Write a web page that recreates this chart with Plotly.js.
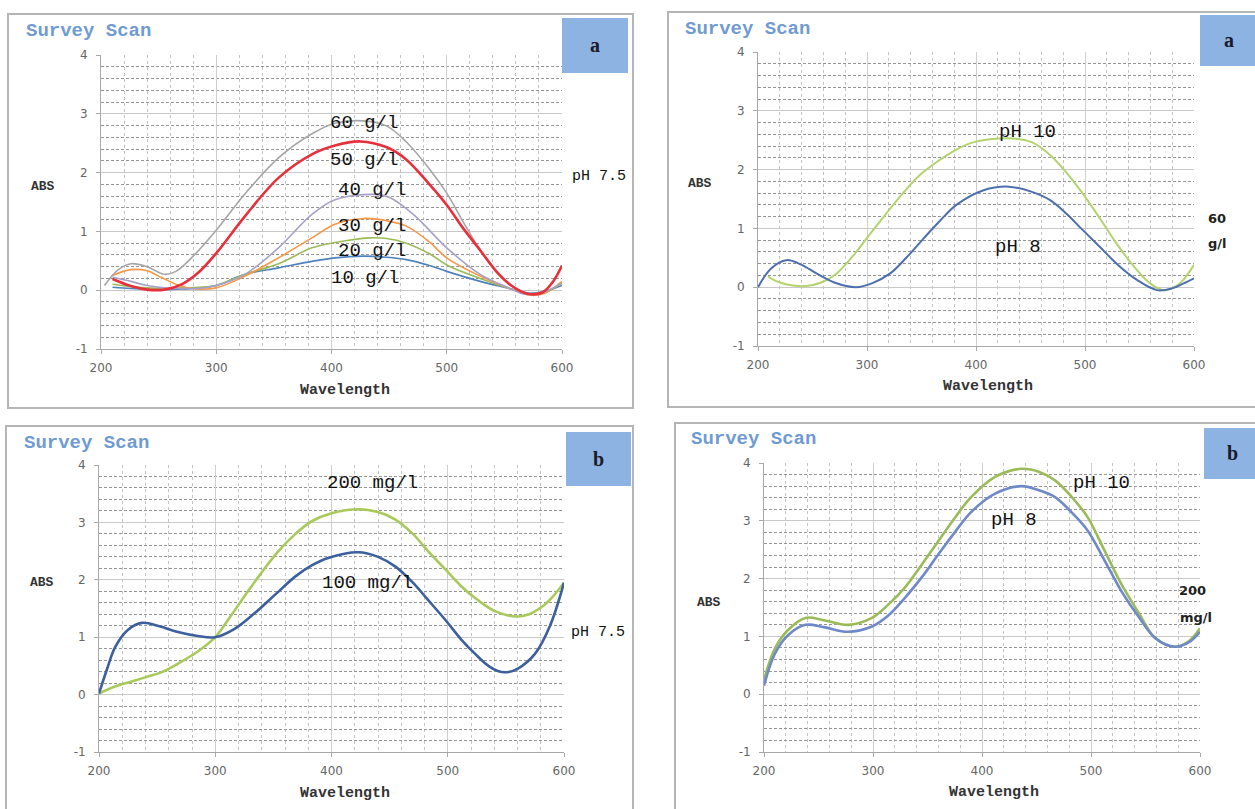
<!DOCTYPE html>
<html>
<head>
<meta charset="utf-8">
<script src="https://cdn.plot.ly/plotly-3.0.1.min.js"></script>
<style>html,body{margin:0;padding:0;background:#fff;}#chart{width:1255px;height:809px;}</style>
</head>
<body>
<div id="chart"></div>
<script>
// ---------- Panel A1 (pH 7.5, concentrations g/l) ----------
var wlA1_60 = [203,215,226,240,255,265,280,300,325,354,383,403,428,448,465,485,500,514,529,543,556,570,585,600];
var absA1_60 = [0.08,0.35,0.45,0.40,0.27,0.32,0.58,1.02,1.64,2.25,2.66,2.84,2.88,2.79,2.52,2.06,1.65,1.17,0.68,0.31,0.08,-0.05,-0.03,0.12];
var wlA1_50 = [210,226,240,255,270,285,300,325,354,383,403,425,448,465,485,500,514,529,543,556,570,583,592,600];
var absA1_50 = [0.19,0.07,0.01,0.01,0.10,0.31,0.63,1.26,1.91,2.31,2.46,2.53,2.43,2.22,1.80,1.45,1.06,0.68,0.32,0.08,-0.06,-0.04,0.14,0.42];
var wlA1_40 = [210,226,240,255,270,285,300,325,354,383,403,436,450,471,500,529,556,566,580,600];
var absA1_40 = [0.22,0.15,0.08,0.04,0.03,0.03,0.08,0.27,0.72,1.29,1.54,1.63,1.58,1.29,0.72,0.27,0.02,-0.06,-0.06,0.12];
var wlA1_30 = [210,226,240,253,268,282,300,325,354,383,403,428,448,465,485,500,529,556,572,585,600];
var absA1_30 = [0.25,0.35,0.33,0.21,0.08,0.02,0.04,0.24,0.55,0.89,1.12,1.22,1.18,1.09,0.82,0.55,0.24,0.02,-0.08,-0.05,0.15];
var wlA1_20 = [210,226,240,255,270,285,300,325,354,383,403,433,448,465,485,500,529,556,572,585,600];
var absA1_20 = [0.10,0.06,0.04,0.03,0.04,0.05,0.08,0.27,0.45,0.72,0.81,0.89,0.88,0.80,0.62,0.43,0.20,0.02,-0.07,-0.04,0.12];
var wlA1_10 = [210,226,240,255,270,285,300,325,354,383,403,428,448,465,485,500,529,556,570,585,600];
var absA1_10 = [0.05,0.03,0.02,0.01,0.02,0.04,0.08,0.27,0.38,0.49,0.55,0.58,0.56,0.52,0.42,0.32,0.15,0.02,-0.05,-0.02,0.08];

// ---------- Panel A2 (60 g/l, pH 8 / pH 10) ----------
var wlA2_pH8 = [200,212,226,240,254,270,290,305,321,336,352,367,382,407,430,450,468,483,498,514,529,548,566,580,590,600];
var absA2_pH8 = [0.00,0.32,0.46,0.38,0.23,0.08,0.00,0.07,0.23,0.50,0.83,1.13,1.40,1.65,1.71,1.63,1.48,1.25,0.97,0.68,0.40,0.12,-0.05,-0.02,0.06,0.15];
var wlA2_pH10 = [209,220,232,244,258,272,288,303,318,333,348,364,380,395,415,434,452,468,483,498,514,529,545,560,572,582,590,600];
var absA2_pH10 = [0.18,0.08,0.03,0.02,0.08,0.23,0.55,0.91,1.26,1.60,1.90,2.13,2.32,2.45,2.52,2.53,2.46,2.25,1.95,1.59,1.16,0.74,0.35,0.06,-0.05,0.00,0.12,0.38];

// ---------- Panel B1 (pH 7.5, 100 / 200 mg/l) ----------
var wlB1_100 = [200,207,214,225,237,252,268,285,300,317,334,352,369,383,397,423,440,455,470,483,498,512,524,535,543,551,560,575,588,600];
var absB1_100 = [0.02,0.45,0.83,1.13,1.25,1.19,1.09,1.02,1.00,1.15,1.42,1.75,2.06,2.25,2.38,2.48,2.40,2.23,1.95,1.65,1.30,0.95,0.70,0.50,0.41,0.39,0.45,0.71,1.20,1.95];
var wlB1_200 = [200,215,240,255,268,285,300,313,326,340,354,369,383,400,423,440,455,470,483,498,512,527,541,559,570,581,590,600];
var absB1_200 = [0.02,0.15,0.30,0.40,0.54,0.75,1.00,1.36,1.74,2.13,2.49,2.80,3.02,3.16,3.23,3.18,3.05,2.80,2.50,2.18,1.88,1.63,1.45,1.36,1.40,1.53,1.70,1.95];

// ---------- Panel B2 (200 mg/l, pH 8 / pH 10) ----------
var wlB2 = [200,210,222,238,255,277,299,314,329,345,360,375,390,412,436,452,467,482,497,512,528,544,559,577,590,600];
var absB2_pH8 = [0.15,0.70,1.02,1.20,1.16,1.08,1.17,1.36,1.66,2.03,2.42,2.80,3.15,3.47,3.60,3.53,3.41,3.15,2.83,2.33,1.78,1.33,0.97,0.82,0.90,1.08];
var absB2_pH10 = [0.25,0.79,1.11,1.32,1.28,1.20,1.32,1.55,1.84,2.25,2.65,3.05,3.41,3.76,3.90,3.85,3.70,3.42,3.06,2.50,1.90,1.40,0.97,0.82,0.92,1.14];

var xTicks = [200,300,400,500,600];
var yTicks = [-1,0,1,2,3,4];

// ---------- helpers ----------
var W = 1255, H = 809;
function fx(p){return p/W;}
function fy(p){return 1-p/H;}

function tr(x,y,color,width,xa,ya){
  return {x:x,y:y,type:'scatter',mode:'lines',line:{color:color,width:width,shape:'spline',smoothing:1},xaxis:xa,yaxis:ya,hoverinfo:'skip'};
}
var data = [
  tr(wlA1_10,absA1_10,'#4F81BD',1.6,'x','y'),
  tr(wlA1_20,absA1_20,'#9BBB59',1.6,'x','y'),
  tr(wlA1_30,absA1_30,'#F79646',1.6,'x','y'),
  tr(wlA1_40,absA1_40,'#A7A1C9',1.6,'x','y'),
  tr(wlA1_60,absA1_60,'#A6A6A6',1.6,'x','y'),
  tr(wlA1_50,absA1_50,'#E8303C',2.6,'x','y'),
  tr(wlA2_pH10,absA2_pH10,'#B4D36E',2,'x2','y2'),
  tr(wlA2_pH8,absA2_pH8,'#4D6FAE',2,'x2','y2'),
  tr(wlB1_200,absB1_200,'#A9C95B',2.6,'x3','y3'),
  tr(wlB1_100,absB1_100,'#3C5F9E',2.6,'x3','y3'),
  tr(wlB2,absB2_pH10,'#9BBB59',2.6,'x4','y4'),
  tr(wlB2,absB2_pH8,'#6E88C8',2.6,'x4','y4')
];

function xax(x0,x1,anchor){
  return {domain:[fx(x0),fx(x1)],anchor:anchor,range:[200,600],tickvals:xTicks,ticktext:xTicks.map(String),
    showgrid:true,gridcolor:'#cfcfcf',gridwidth:1,zeroline:false,showline:true,linecolor:'#a8a8a8',
    ticks:'outside',ticklen:4,tickcolor:'#a8a8a8',ticklabelstandoff:4,
    tickfont:{family:'DejaVu Sans',size:12,color:'#666'},
    minor:{dtick:20,showgrid:true,gridcolor:'#c4c4c4',griddash:'dot',gridwidth:1},fixedrange:true};
}
function yax(y0,y1,anchor){
  return {domain:[fy(y1),fy(y0)],anchor:anchor,range:[-1,4],tickvals:yTicks,ticktext:yTicks.map(String),
    showgrid:true,gridcolor:'#c8c8c8',gridwidth:1,zeroline:false,showline:true,linecolor:'#a8a8a8',
    ticks:'outside',ticklen:4,tickcolor:'#a8a8a8',ticklabelstandoff:6,
    tickfont:{family:'DejaVu Sans',size:12,color:'#666'},
    minor:{dtick:0.2,showgrid:true,gridcolor:'#959595',griddash:'3px,2px',gridwidth:1},fixedrange:true};
}

var shapes = [];
function frame(x0,y0,x1,y1){
  shapes.push({type:'rect',xref:'paper',yref:'paper',x0:fx(x0),x1:fx(x1),y0:fy(y1),y1:fy(y0),line:{color:'#b5b5b5',width:2},fillcolor:'rgba(0,0,0,0)',layer:'below'});
}
function box(x0,y0,x1,y1){
  shapes.push({type:'rect',xref:'paper',yref:'paper',x0:fx(x0),x1:fx(x1),y0:fy(y1),y1:fy(y0),line:{width:0},fillcolor:'#8DB3E2',layer:'above'});
}
frame(8,14,633,408);
frame(668,12,1262,407);
frame(6,426,633,815);
frame(675,423,1262,815);
box(562,18,628,73);
box(1200,15,1255,66);
box(566,432,631,486);
box(1204,428,1255,479);

var ann = [];
function txt(t,x,y,font,xanchor){
  ann.push({text:t,xref:'paper',yref:'paper',x:fx(x),y:fy(y),xanchor:xanchor||'center',yanchor:'middle',showarrow:false,font:font});
}
var fSurvey = {family:'Liberation Mono',size:19,color:'#6F9BD2'};
var fLetter = {family:'Liberation Serif',size:20,color:'#1a1a2a'};
var fLab = {family:'Liberation Mono',size:19,color:'#111'};
var fSide = {family:'Liberation Mono',size:15,color:'#111'};
var fAbs = {family:'Liberation Mono',size:13,color:'#333'};
var fWave = {family:'Liberation Mono',size:15,color:'#333'};

// panel A1
txt('<b>Survey Scan</b>',24,31,fSurvey,'left');
txt('<b>a</b>',595,45,fLetter);
txt('<b>ABS</b>',43,186,fAbs);
txt('<b>Wavelength</b>',345,390,fWave);
txt('60 g/l',364,123,fLab);
txt('50 g/l',364,160,fLab);
txt('40 g/l',372,190,fLab);
txt('30 g/l',372,226,fLab);
txt('20 g/l',372,251,fLab);
txt('10 g/l',365,278,fLab);
txt('pH 7.5',599,176,fSide);
// panel A2
txt('<b>Survey Scan</b>',683,29,fSurvey,'left');
txt('<b>a</b>',1229,40,fLetter);
txt('<b>ABS</b>',700,183,fAbs);
txt('<b>Wavelength</b>',988,386,fWave);
txt('pH 10',1027,132,fLab);
txt('pH 8',1018,247,fLab);
txt('<b>60</b>',1206,218,{family:'DejaVu Sans',size:13,color:'#222'},'left');
txt('<b>g/l</b>',1206,243,{family:'DejaVu Sans',size:13,color:'#222'},'left');
// panel B1
txt('<b>Survey Scan</b>',22,443,fSurvey,'left');
txt('<b>b</b>',598,459,fLetter);
txt('<b>ABS</b>',42,582,fAbs);
txt('<b>Wavelength</b>',345,793,fWave);
txt('200 mg/l',372,483,fLab);
txt('100 mg/l',367,583,fLab);
txt('pH 7.5',598,632,fSide);
// panel B2
txt('<b>Survey Scan</b>',689,439,fSurvey,'left');
txt('<b>b</b>',1232,453,fLetter);
txt('<b>ABS</b>',709,602,fAbs);
txt('<b>Wavelength</b>',994,792,fWave);
txt('pH 10',1101,483,fLab);
txt('pH 8',1014,520,fLab);
txt('<b>200</b>',1192,590,{family:'DejaVu Sans',size:13,color:'#222'});
txt('<b>mg/l</b>',1196,617,{family:'DejaVu Sans',size:13,color:'#222'});

var layout = {
  width:W,height:H,margin:{l:0,r:0,t:0,b:0},paper_bgcolor:'#fff',plot_bgcolor:'#fff',showlegend:false,
  xaxis:xax(101,562,'y'), yaxis:yax(55,349,'x'),
  xaxis2:xax(758,1194,'y2'), yaxis2:yax(52,346,'x2'),
  xaxis3:xax(99,564,'y3'), yaxis3:yax(465,752,'x3'),
  xaxis4:xax(764,1200,'y4'), yaxis4:yax(463,752,'x4'),
  shapes:shapes, annotations:ann
};
Plotly.newPlot('chart',data,layout,{staticPlot:true,displayModeBar:false});
</script>
</body>
</html>
